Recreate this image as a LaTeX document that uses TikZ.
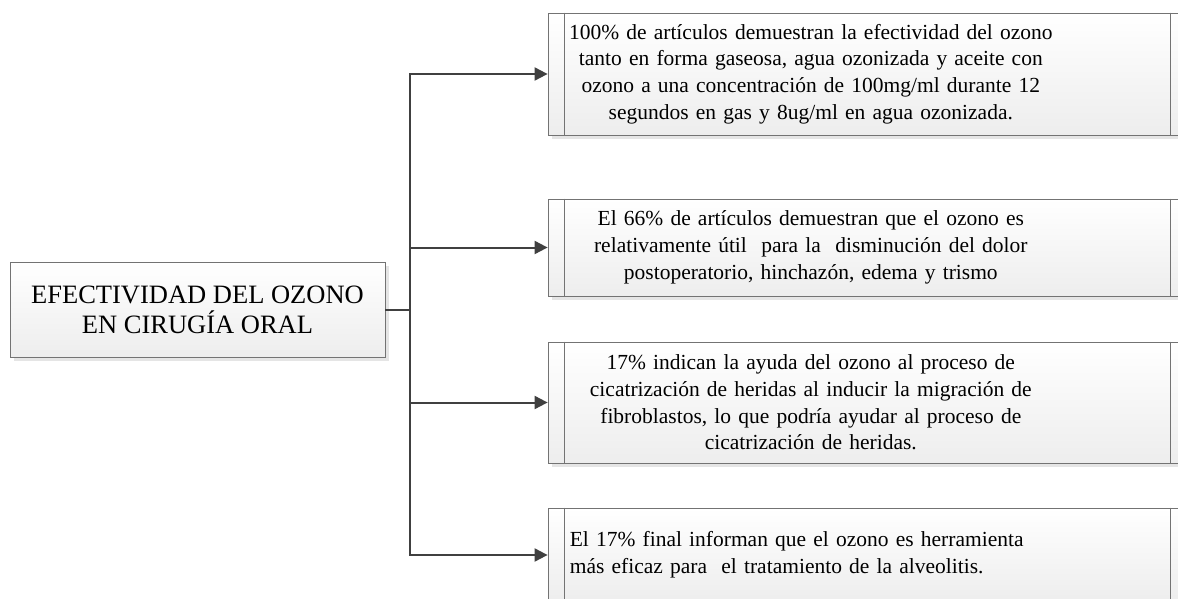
\documentclass[tikz,border=0pt]{standalone}
\usepackage{fontspec}
\setmainfont{Liberation Serif}
\usetikzlibrary{shadows,arrows.meta}

\tikzset{
  box/.style={draw=black!55, line width=0.8pt, top color=white, bottom color=black!7,
    drop shadow={shadow xshift=4pt, shadow yshift=-4pt, fill=black!10, opacity=1},
    inner sep=0pt},
  topic/.style={box, minimum width=375pt, minimum height=95pt, align=center,
    font=\fontsize{26.5}{30}\selectfont},
  finding/.style={box, minimum width=639pt},
  note/.style={anchor=west, inner sep=0pt, text width=486pt, align=center,
    font=\fontsize{21.5}{26.7}\selectfont},
  link/.style={draw=black!75, line width=2pt, -{Triangle[length=13pt,width=13pt]}},
  bar/.style={draw=black!55, line width=0.8pt}
}

\begin{document}
\begin{tikzpicture}[x=1pt, y=-1pt]
  %%%%% START %%%%%
  \clip (0,0) rectangle (1178,599);
  \useasboundingbox (0,0) rectangle (1178,599);

  \node[topic] (tema) at (197.5, 309.5) {EFECTIVIDAD DEL OZONO\\EN CIRUGÍA ORAL};

  \node[finding, minimum height=122pt] (f1) at (867.5, 74) {};
  \node[finding, minimum height=97pt] (f2) at (867.5, 247.5) {};
  \node[finding, minimum height=121pt] (f3) at (867.5, 402.5) {};
  \node[finding, minimum height=94pt] (f4) at (867.5, 555) {};

  % lineas dobles de los procesos
  \foreach \f in {f1,f2,f3,f4} {
    \draw[bar] ([xshift=17pt]\f.north west) -- ([xshift=17pt]\f.south west);
    \draw[bar] ([xshift=-17pt]\f.north east) -- ([xshift=-17pt]\f.south east);
  }

  \node[note] (t1) at ([xshift=20pt]f1.west)
    {100\% de artículos demuestran la efectividad del ozono\\tanto en forma gaseosa, agua ozonizada y aceite con\\ozono a una concentración de 100mg/ml durante 12\\segundos en gas y 8ug/ml en agua ozonizada.};
  \node[note] (t2) at ([xshift=20pt]f2.west)
    {El 66\% de artículos demuestran que el ozono es\\relativamente útil\ \ para la\ \ disminución del dolor\\postoperatorio, hinchazón, edema y trismo};
  \node[note] (t3) at ([xshift=20pt]f3.west)
    {17\% indican la ayuda del ozono al proceso de\\cicatrización de heridas al inducir la migración de\\fibroblastos, lo que podría ayudar al proceso de\\cicatrización de heridas.};
  \node[note, align=left] (t4) at ([xshift=22pt]f4.west)
    {El 17\% final informan que el ozono es herramienta\\más eficaz para\ \ el tratamiento de la alveolitis.};

  % conectores
  \foreach \f in {f1,f2,f3,f4}
    \draw[link] (tema.east) -- ++(25,0) |- (\f.west);
  %%%%% END %%%%%
\end{tikzpicture}
\end{document}
